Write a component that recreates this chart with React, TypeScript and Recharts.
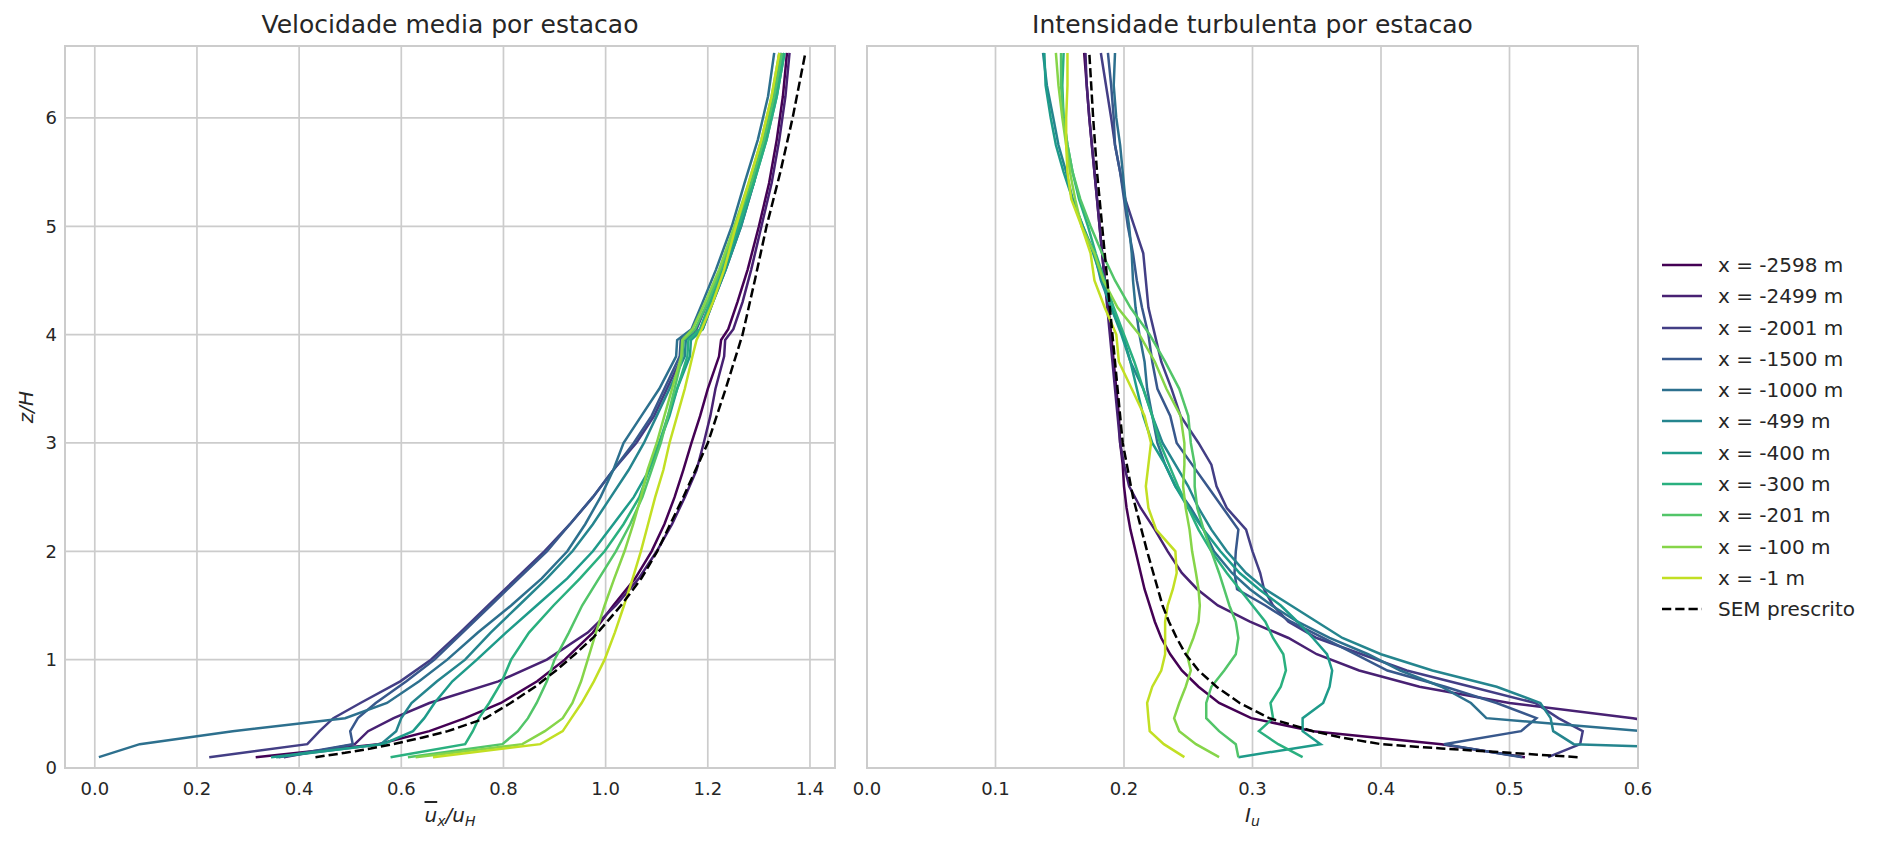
import React from 'react';
import { LineChart, Line, XAxis, YAxis, CartesianGrid } from 'recharts';

const FONT = "'DejaVu Sans', 'Liberation Sans', sans-serif";
const TEXT = '#262626';
const GRID = '#cccccc';

// ---------- categories ----------
const STATIONS = [
  'x = -2598 m', 'x = -2499 m', 'x = -2001 m', 'x = -1500 m', 'x = -1000 m',
  'x = -499 m', 'x = -400 m', 'x = -300 m', 'x = -201 m', 'x = -100 m', 'x = -1 m',
];
const SEM_LABEL = 'SEM prescrito';
const COLORS = [
  '#440154', '#482173', '#433e85', '#38588c', '#2d708e',
  '#25858e', '#1e9b8a', '#2ab07f', '#52c569', '#86d549', '#c2df23',
];

// ---------- ticks ----------
const U_TICKS = [0, 0.2, 0.4, 0.6, 0.8, 1.0, 1.2, 1.4];
const I_TICKS = [0, 0.1, 0.2, 0.3, 0.4, 0.5, 0.6];
const Z_TICKS = [0, 1, 2, 3, 4, 5, 6];

// ---------- heights (z/H) ----------
const Z_U = [0.1, 0.22, 0.34, 0.46, 0.6, 0.8, 1.0, 1.25, 1.5, 1.75, 2.0, 2.25, 2.5, 2.75, 3.0, 3.25, 3.5, 3.8, 3.95, 4.05, 4.3, 4.6, 5.0, 5.4, 5.8, 6.2, 6.6];
const Z_I = [0.1, 0.22, 0.34, 0.46, 0.6, 0.75, 0.9, 1.05, 1.2, 1.35, 1.5, 1.65, 1.8, 2.0, 2.2, 2.4, 2.6, 2.8, 3.0, 3.25, 3.5, 3.75, 4.0, 4.25, 4.5, 4.75, 5.0, 5.25, 5.5, 5.75, 6.0, 6.3, 6.6];
const Z_SEM = [0.1, 0.14, 0.18, 0.22, 0.28, 0.34, 0.46, 0.6, 0.75, 0.9, 1.05, 1.2, 1.35, 1.5, 1.75, 2.0, 2.5, 3.0, 3.5, 4.0, 4.5, 5.0, 5.5, 6.0, 6.6];

// ---------- mean velocity u/uH ----------
const U_2598 = [0.315, 0.555, 0.655, 0.725, 0.795, 0.866, 0.92, 0.975, 1.015, 1.058, 1.09, 1.115, 1.135, 1.152, 1.168, 1.185, 1.2, 1.222, 1.226, 1.24, 1.258, 1.278, 1.3, 1.32, 1.335, 1.347, 1.355];
const U_2499 = [0.37, 0.509, 0.535, 0.585, 0.655, 0.79, 0.885, 0.965, 1.02, 1.065, 1.1, 1.13, 1.155, 1.178, 1.192, 1.205, 1.215, 1.232, 1.234, 1.25, 1.268, 1.285, 1.305, 1.325, 1.34, 1.352, 1.36];
const U_2001 = [0.224, 0.416, 0.44, 0.467, 0.52, 0.598, 0.658, 0.715, 0.77, 0.825, 0.88, 0.93, 0.975, 1.015, 1.06, 1.095, 1.12, 1.15, 1.152, 1.19, 1.21, 1.235, 1.265, 1.29, 1.31, 1.33, 1.345];
const U_1500 = [0.36, 0.505, 0.5, 0.515, 0.55, 0.61, 0.665, 0.72, 0.775, 0.83, 0.885, 0.93, 0.975, 1.015, 1.055, 1.09, 1.115, 1.145, 1.147, 1.178, 1.2, 1.225, 1.26, 1.285, 1.31, 1.33, 1.34];
const U_1000 = [0.008, 0.088, 0.27, 0.49, 0.572, 0.635, 0.69, 0.75, 0.815, 0.875, 0.925, 0.96, 0.99, 1.015, 1.035, 1.07, 1.105, 1.138, 1.14, 1.168, 1.19, 1.216, 1.247, 1.272, 1.298, 1.318, 1.33];
const U_499 = [0.355, 0.56, 0.59, 0.6, 0.62, 0.67, 0.725, 0.775, 0.83, 0.885, 0.935, 0.975, 1.01, 1.045, 1.075, 1.1, 1.125, 1.155, 1.157, 1.185, 1.205, 1.23, 1.26, 1.29, 1.31, 1.33, 1.345];
const U_400 = [0.345, 0.564, 0.623, 0.645, 0.665, 0.7, 0.748, 0.805, 0.865, 0.925, 0.975, 1.015, 1.055, 1.085, 1.105, 1.125, 1.14, 1.165, 1.167, 1.19, 1.21, 1.235, 1.265, 1.29, 1.315, 1.335, 1.35];
const U_300 = [0.579, 0.725, 0.74, 0.752, 0.772, 0.797, 0.815, 0.85, 0.898, 0.95, 0.998, 1.035, 1.066, 1.085, 1.105, 1.122, 1.14, 1.16, 1.162, 1.185, 1.205, 1.23, 1.26, 1.29, 1.315, 1.335, 1.35];
const U_201 = [0.613, 0.798, 0.828, 0.848, 0.865, 0.885, 0.9, 0.928, 0.954, 0.987, 1.02, 1.048, 1.072, 1.09, 1.108, 1.122, 1.135, 1.15, 1.152, 1.175, 1.2, 1.225, 1.255, 1.285, 1.31, 1.33, 1.345];
const U_100 = [0.628, 0.837, 0.881, 0.916, 0.935, 0.952, 0.965, 0.981, 0.998, 1.017, 1.037, 1.054, 1.069, 1.082, 1.1, 1.115, 1.13, 1.148, 1.15, 1.17, 1.195, 1.222, 1.252, 1.28, 1.305, 1.325, 1.34];
const U_1 = [0.662, 0.872, 0.916, 0.933, 0.953, 0.977, 0.998, 1.018, 1.036, 1.053, 1.069, 1.083, 1.097, 1.113, 1.125, 1.14, 1.155, 1.17, 1.178, 1.188, 1.21, 1.232, 1.255, 1.28, 1.305, 1.325, 1.34];
const U_SEM = [0.432, 0.49, 0.54, 0.584, 0.64, 0.691, 0.765, 0.814, 0.862, 0.903, 0.94, 0.975, 1.003, 1.03, 1.07, 1.101, 1.152, 1.2, 1.235, 1.268, 1.292, 1.315, 1.342, 1.366, 1.391];

// ---------- turbulence intensity Iu ----------
const I_2598 = [0.512, 0.447, 0.347, 0.299, 0.274, 0.258, 0.245, 0.236, 0.229, 0.224, 0.22, 0.216, 0.213, 0.209, 0.205, 0.202, 0.2, 0.199, 0.197, 0.196, 0.194, 0.192, 0.19, 0.188, 0.185, 0.183, 0.181, 0.179, 0.177, 0.175, 0.173, 0.171, 0.169];
const I_2499 = [0.75, 0.7, 0.65, 0.596, 0.5, 0.43, 0.383, 0.35, 0.328, 0.298, 0.273, 0.257, 0.245, 0.234, 0.224, 0.213, 0.204, 0.2, 0.197, 0.195, 0.193, 0.191, 0.189, 0.187, 0.185, 0.183, 0.181, 0.179, 0.177, 0.175, 0.173, 0.171, 0.17];
const I_2001 = [0.53, 0.555, 0.557, 0.538, 0.52, 0.47, 0.42, 0.385, 0.35, 0.328, 0.316, 0.309, 0.306, 0.3, 0.295, 0.28, 0.272, 0.268, 0.258, 0.244, 0.237, 0.229, 0.224, 0.219, 0.217, 0.215, 0.208, 0.201, 0.197, 0.193, 0.19, 0.186, 0.182];
const I_1500 = [0.51, 0.449, 0.509, 0.521, 0.49, 0.45, 0.405, 0.38, 0.355, 0.33, 0.31, 0.288, 0.286, 0.287, 0.289, 0.277, 0.265, 0.253, 0.241, 0.236, 0.226, 0.222, 0.219, 0.214, 0.21, 0.207, 0.203, 0.2, 0.197, 0.193, 0.192, 0.19, 0.1875];
const I_1000 = [0.7, 0.66, 0.605, 0.482, 0.47, 0.447, 0.415, 0.39, 0.36, 0.335, 0.315, 0.298, 0.284, 0.27, 0.262, 0.252, 0.24, 0.232, 0.226, 0.222, 0.218, 0.216, 0.212, 0.209, 0.207, 0.206, 0.204, 0.201, 0.199, 0.197, 0.194, 0.192, 0.193];
const I_499 = [0.85, 0.55, 0.534, 0.532, 0.524, 0.49, 0.44, 0.4, 0.37, 0.35, 0.33, 0.31, 0.295, 0.28, 0.268, 0.258, 0.25, 0.24, 0.23, 0.222, 0.215, 0.205, 0.199, 0.19, 0.182, 0.177, 0.168, 0.16, 0.155, 0.149, 0.145, 0.14, 0.137];
const I_400 = [0.289, 0.353, 0.339, 0.339, 0.355, 0.36, 0.362, 0.358, 0.347, 0.335, 0.322, 0.305, 0.29, 0.275, 0.262, 0.25, 0.24, 0.232, 0.222, 0.215, 0.21, 0.205, 0.198, 0.19, 0.183, 0.176, 0.168, 0.16, 0.153, 0.147, 0.143, 0.139, 0.138];
const I_300 = [0.339, 0.32, 0.305, 0.316, 0.314, 0.322, 0.326, 0.324, 0.316, 0.31, 0.3, 0.29, 0.28, 0.268, 0.258, 0.25, 0.242, 0.235, 0.228, 0.222, 0.215, 0.208, 0.2, 0.192, 0.185, 0.178, 0.172, 0.165, 0.16, 0.156, 0.153, 0.152, 0.153];
const I_201 = [0.289, 0.287, 0.274, 0.264, 0.264, 0.268, 0.278, 0.287, 0.289, 0.287, 0.282, 0.278, 0.274, 0.268, 0.262, 0.257, 0.255, 0.255, 0.252, 0.25, 0.243, 0.232, 0.22, 0.205, 0.193, 0.183, 0.174, 0.166, 0.16, 0.156, 0.153, 0.151, 0.151];
const I_100 = [0.274, 0.256, 0.243, 0.239, 0.243, 0.248, 0.252, 0.249, 0.254, 0.258, 0.259, 0.258, 0.256, 0.253, 0.251, 0.248, 0.246, 0.247, 0.247, 0.244, 0.233, 0.224, 0.212, 0.195, 0.184, 0.177, 0.167, 0.162, 0.158, 0.155, 0.152, 0.149, 0.147];
const I_1 = [0.247, 0.231, 0.22, 0.219, 0.218, 0.222, 0.229, 0.232, 0.232, 0.232, 0.234, 0.238, 0.241, 0.24, 0.225, 0.219, 0.217, 0.219, 0.221, 0.216, 0.206, 0.196, 0.194, 0.185, 0.177, 0.174, 0.167, 0.159, 0.156, 0.155, 0.155, 0.156, 0.156];
const I_SEM = [0.553, 0.5, 0.447, 0.4, 0.37, 0.347, 0.313, 0.29, 0.272, 0.258, 0.248, 0.241, 0.235, 0.23, 0.224, 0.218, 0.207, 0.199, 0.195, 0.191, 0.187, 0.183, 0.179, 0.176, 0.173];

const U_SERIES = [U_2598, U_2499, U_2001, U_1500, U_1000, U_499, U_400, U_300, U_201, U_100, U_1];
const I_SERIES = [I_2598, I_2499, I_2001, I_1500, I_1000, I_499, I_400, I_300, I_201, I_100, I_1];

type Pt = { v: number; z: number };
const toPts = (vals: number[], zs: number[]): Pt[] => vals.map((v, i) => ({ v, z: zs[i] }));

// ---------- layout ----------
const PLOT_TOP = 46;
const PLOT_BOTTOM = 768;
const LEFT_PLOT = { x0: 65, x1: 835 };
const RIGHT_PLOT = { x0: 867, x1: 1638 };
const LINE_W = 2.5;
const DASH = '9.25 4';

const tickStyle = { fill: TEXT, fontSize: 18, fontFamily: FONT };

type PanelProps = {
  left: number;
  width: number;
  plot: { x0: number; x1: number };
  domain: [number, number];
  ticks: number[];
  series: number[][];
  zs: number[];
  sem: number[];
  showYTicks: boolean;
};

function Panel({ left, width, plot, domain, ticks, series, zs, sem, showYTicks }: PanelProps) {
  const yW = showYTicks ? 40 : 10;
  const xH = 30;
  const margin = {
    top: PLOT_TOP,
    bottom: 842 - PLOT_BOTTOM - xH,
    left: plot.x0 - left - yW,
    right: left + width - plot.x1,
  };
  return (
    <div style={{ position: 'absolute', left, top: 0, width, height: 842 }}>
      <LineChart width={width} height={842} margin={margin}>
        <CartesianGrid stroke={GRID} strokeWidth={1.7} />
        <XAxis
          type="number"
          dataKey="v"
          domain={domain}
          ticks={ticks}
          allowDataOverflow
          interval={0}
          height={xH}
          axisLine={false}
          tickLine={false}
          tickMargin={8}
          tick={tickStyle}
          tickFormatter={(t: number) => t.toFixed(1)}
        />
        <YAxis
          type="number"
          dataKey="z"
          domain={[0, 6.664]}
          ticks={Z_TICKS}
          allowDataOverflow
          interval={0}
          width={yW}
          axisLine={false}
          tickLine={false}
          tick={showYTicks ? tickStyle : false}
          tickFormatter={(t: number) => String(t)}
        />
        {series.map((vals, i) => (
          <Line
            key={STATIONS[i]}
            data={toPts(vals, zs)}
            dataKey="z"
            type="linear"
            stroke={COLORS[i]}
            strokeWidth={LINE_W}
            dot={false}
            activeDot={false}
            isAnimationActive={false}
          />
        ))}
        <Line
          key="sem"
          data={toPts(sem, Z_SEM)}
          dataKey="z"
          type="linear"
          stroke="#000000"
          strokeWidth={LINE_W}
          strokeDasharray={DASH}
          dot={false}
          activeDot={false}
          isAnimationActive={false}
        />
      </LineChart>
      <div
        style={{
          position: 'absolute',
          left: plot.x0 - left - 1,
          top: PLOT_TOP - 1,
          width: plot.x1 - plot.x0 + 2,
          height: PLOT_BOTTOM - PLOT_TOP + 2,
          border: `2px solid ${GRID}`,
          boxSizing: 'border-box',
          pointerEvents: 'none',
        }}
      />
    </div>
  );
}

const titleStyle: React.CSSProperties = {
  position: 'absolute',
  top: 10,
  width: 700,
  textAlign: 'center',
  fontFamily: FONT,
  fontSize: 25,
  lineHeight: '30px',
  color: TEXT,
  whiteSpace: 'nowrap',
};

const labelStyle: React.CSSProperties = {
  position: 'absolute',
  top: 802,
  width: 300,
  textAlign: 'center',
  fontFamily: FONT,
  fontSize: 20,
  lineHeight: '26px',
  color: TEXT,
  fontStyle: 'italic',
  whiteSpace: 'nowrap',
};

const subStyle: React.CSSProperties = { fontSize: '0.7em', verticalAlign: '-0.25em', lineHeight: 0 };

function Legend() {
  const rows = [...STATIONS.map((s, i) => ({ label: s, color: COLORS[i], dash: false })), { label: SEM_LABEL, color: '#000000', dash: true }];
  return (
    <div style={{ position: 'absolute', left: 1660, top: 265 - 15.65, fontFamily: FONT, fontSize: 20, color: TEXT }}>
      {rows.map((r) => (
        <div key={r.label} style={{ height: 31.3, display: 'flex', alignItems: 'center', whiteSpace: 'nowrap' }}>
          <svg width={44} height={10} style={{ flex: 'none', marginRight: 14 }}>
            <line x1={2} y1={5} x2={42} y2={5} stroke={r.color} strokeWidth={LINE_W} strokeDasharray={r.dash ? DASH : undefined} />
          </svg>
          <span>{r.label}</span>
        </div>
      ))}
    </div>
  );
}

export default function App() {
  const lc = (LEFT_PLOT.x0 + LEFT_PLOT.x1) / 2;
  const rc = (RIGHT_PLOT.x0 + RIGHT_PLOT.x1) / 2;
  return (
    <div style={{ position: 'absolute', left: 0, top: 0, width: 1879, height: 842, background: '#ffffff', overflow: 'hidden' }}>
      <Panel left={0} width={850} plot={LEFT_PLOT} domain={[-0.0583, 1.449]} ticks={U_TICKS} series={U_SERIES} zs={Z_U} sem={U_SEM} showYTicks />
      <Panel left={840} width={830} plot={RIGHT_PLOT} domain={[0, 0.6]} ticks={I_TICKS} series={I_SERIES} zs={Z_I} sem={I_SEM} showYTicks={false} />

      <div style={{ ...titleStyle, left: lc - 350 }}>Velocidade media por estacao</div>
      <div style={{ ...titleStyle, left: rc - 350 }}>Intensidade turbulenta por estacao</div>

      <div style={{ ...labelStyle, left: lc - 150 }}>
        <span style={{ textDecoration: 'overline' }}>u</span>
        <span style={subStyle}>x</span>/u<span style={subStyle}>H</span>
      </div>
      <div style={{ ...labelStyle, left: rc - 150 }}>
        I<span style={subStyle}>u</span>
      </div>
      <div
        style={{
          position: 'absolute',
          left: 26 - 50,
          top: (PLOT_TOP + PLOT_BOTTOM) / 2 - 13,
          width: 100,
          textAlign: 'center',
          transform: 'rotate(-90deg)',
          fontFamily: FONT,
          fontSize: 20,
          lineHeight: '26px',
          color: TEXT,
          fontStyle: 'italic',
        }}
      >
        z/H
      </div>
      <Legend />
    </div>
  );
}
